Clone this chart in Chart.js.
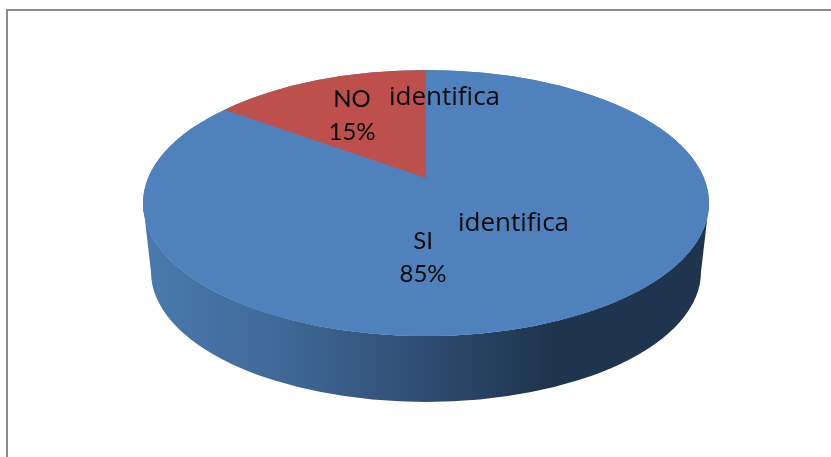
<!DOCTYPE html>
<html>
<head>
<meta charset="utf-8">
<title>identifica</title>
<script src="https://cdn.jsdelivr.net/npm/chart.js@4/dist/chart.umd.min.js"></script>
<style>
    html, body { margin: 0; padding: 0; background: #fff; overflow: hidden; }
    #frame { position: absolute; left: 6px; top: 9px; width: 825px; height: 448px; border-left: 2px solid #8c8c8c; border-top: 2px solid #8c8c8c; }
    #pie { position: absolute; left: 0; top: 0; }
</style>
</head>
<body>
<div id="frame"></div>
<canvas id="pie" width="831" height="457"></canvas>
<script>
const categories = ['SI', 'NO'];
const values = [85, 15];
const percentLabels = ['85%', '15%'];
const seriesName = 'identifica';
const sliceColors = ['#4f81bd', '#bd4f4c'];

// top face and bottom rim of the 3D disc, in pixels
const topFace = { x: 426, y: 203, rx: 283, ry: 133 };
const bottomRim = { x: 426, y: 272, rx: 275, ry: 130 };
// the reference has perspective: the NO wedge tip sits above the ellipse centre
const wedgeTip = { x: 426, y: 178, a: 248.5, b: 5.6, c: 0, d: 108 };

function ellipsePath(ctx, e) {
    ctx.beginPath();
    ctx.ellipse(e.x, e.y, e.rx, e.ry, 0, 0, Math.PI * 2);
}

// squash the round arcs of the library into the tilted disc
const baseArcDraw = Chart.ArcElement.prototype.draw;
Chart.ArcElement.prototype.draw = function(ctx, area) {
    const index = this.$context ? this.$context.dataIndex : 0;
    const r = this.outerRadius;
    ctx.save();
    if (index === 1) {
        ellipsePath(ctx, topFace);
        ctx.clip();
        ctx.transform(wedgeTip.a / r, wedgeTip.b / r, wedgeTip.c / r, wedgeTip.d / r, wedgeTip.x, wedgeTip.y);
    } else {
        ctx.transform(topFace.rx / r, 0, 0, topFace.ry / r, topFace.x, topFace.y);
    }
    ctx.translate(-this.x, -this.y);
    baseArcDraw.call(this, ctx, area);
    ctx.restore();
};

const discPlugin = {
    id: 'disc',
    beforeDatasetsDraw(chart) {
        const ctx = chart.ctx;
        const wall = ctx.createLinearGradient(topFace.x - topFace.rx, 0, topFace.x + topFace.rx, 0);
        wall.addColorStop(0, '#4a7aae');
        wall.addColorStop(0.25, '#3f6896');
        wall.addColorStop(0.5, '#2e4c71');
        wall.addColorStop(0.72, '#1f344e');
        wall.addColorStop(1, '#1f344e');

        ctx.save();
        ctx.beginPath();
        ctx.ellipse(topFace.x, topFace.y, topFace.rx, topFace.ry, 0, 0, Math.PI);
        ctx.lineTo(bottomRim.x - bottomRim.rx, bottomRim.y);
        ctx.ellipse(bottomRim.x, bottomRim.y, bottomRim.rx, bottomRim.ry, 0, Math.PI, 0, true);
        ctx.closePath();
        ctx.fillStyle = wall;
        ctx.fill();

        ellipsePath(ctx, topFace);
        ctx.fillStyle = sliceColors[0];
        ctx.fill();
        ctx.restore();
    },
    afterDatasetsDraw(chart) {
        const ctx = chart.ctx;
        ctx.save();
        ctx.fillStyle = '#0a0a0a';
        ctx.font = '24px Lato';
        ctx.textBaseline = 'alphabetic';

        ctx.textAlign = 'center';
        ctx.fillText(categories[1], 352, 107);
        ctx.fillText(percentLabels[1], 352, 140);
        ctx.fillText(categories[0], 423, 249);
        ctx.fillText(percentLabels[0], 423, 282);

        // the reference word runs wider than Lato, Open Sans fits it better
        ctx.textAlign = 'left';
        ctx.font = '26px "Open Sans"';
        ctx.fillText(seriesName, 389, 105);
        ctx.fillText(seriesName, 458, 231);
        ctx.restore();
    }
};

new Chart(document.getElementById('pie'), {
    type: 'pie',
    data: {
        labels: categories,
        datasets: [{
            label: seriesName,
            data: values,
            backgroundColor: sliceColors,
            borderWidth: 0
        }]
    },
    options: {
        responsive: false,
        animation: false,
        plugins: {
            legend: { display: false },
            tooltip: { enabled: false }
        }
    },
    plugins: [discPlugin]
});
</script>
</body>
</html>
